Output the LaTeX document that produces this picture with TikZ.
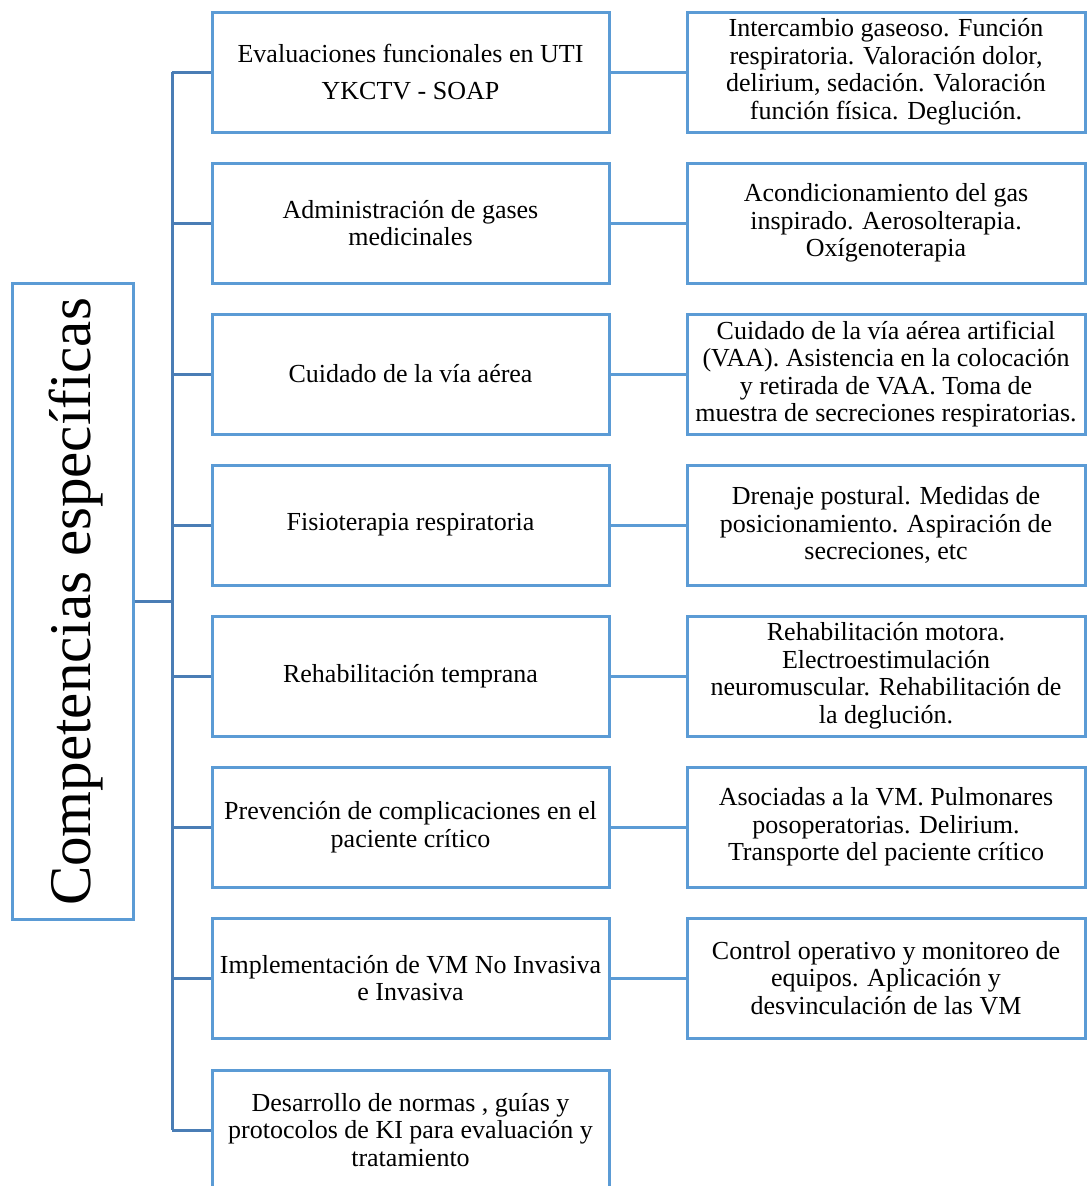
\documentclass[tikz,border=0pt]{standalone}
\usepackage{fontspec}
\setmainfont{Liberation Serif}
\definecolor{boxblue}{HTML}{5B9BD5}
\definecolor{lineblue}{HTML}{4A7DB5}
\begin{document}
\begin{tikzpicture}[x=1pt,y=-1pt,
  mbox/.style={draw=boxblue, line width=3pt, fill=white, minimum width=397pt, minimum height=120pt,
    align=center, inner sep=1pt, font=\fontsize{26}{27.5}\selectfont},
  rbox/.style={draw=boxblue, line width=3pt, fill=white, minimum width=398pt, minimum height=120pt,
    align=center, inner sep=1pt, font=\fontsize{26}{27.5}\selectfont},
  lbox/.style={draw=boxblue, line width=3pt, fill=white, minimum width=121pt, minimum height=636pt},
  spine/.style={draw=lineblue, line width=3pt},
  link/.style={draw=boxblue, line width=3pt}]
\useasboundingbox (0,0) rectangle (1090,1186);
\clip (0,0) rectangle (1090,1186);
\fill[white] (0,0) rectangle (1090,1186);

% spine coordinates
\coordinate (s1) at (172,72);
\coordinate (s2) at (172,223);
\coordinate (s3) at (172,374);
\coordinate (s4) at (172,525);
\coordinate (s5) at (172,676);
\coordinate (s6) at (172,827);
\coordinate (s7) at (172,978);
\coordinate (s8) at (172,1130);

% middle boxes
\node[mbox] (m1) at (410.5,72) {Evaluaciones funcionales en UTI\\[9pt]YKCTV - SOAP};
\node[mbox] (m2) at (410.5,223) {Administración de gases\\medicinales};
\node[mbox] (m3) at (410.5,374) {Cuidado de la vía aérea};
\node[mbox] (m4) at (410.5,525) {Fisioterapia respiratoria};
\node[mbox] (m5) at (410.5,676) {Rehabilitación temprana};
\node[mbox] (m6) at (410.5,827) {Prevención de complicaciones en el\\paciente crítico};
\node[mbox] (m7) at (410.5,978) {Implementación de VM No Invasiva\\e Invasiva};
\node[mbox] (m8) at (410.5,1130) {Desarrollo de normas , guías y\\protocolos de KI para evaluación y\\tratamiento};

% right boxes
\node[rbox] (r1) at (886,72) {Intercambio gaseoso. Función\\respiratoria. Valoración dolor,\\delirium, sedación. Valoración\\función física. Deglución.};
\node[rbox] (r2) at (886,223) {Acondicionamiento del gas\\inspirado. Aerosolterapia.\\Oxígenoterapia};
\node[rbox] (r3) at (886,374) {Cuidado de la vía aérea artificial\\(VAA). Asistencia en la colocación\\y retirada de VAA. Toma de\\muestra de secreciones respiratorias.};
\node[rbox] (r4) at (886,525) {Drenaje postural. Medidas de\\posicionamiento. Aspiración de\\secreciones, etc};
\node[rbox] (r5) at (886,676) {Rehabilitación motora.\\Electroestimulación\\neuromuscular. Rehabilitación de\\la deglución.};
\node[rbox] (r6) at (886,827) {Asociadas a la VM. Pulmonares\\posoperatorias. Delirium.\\Transporte del paciente crítico};
\node[rbox] (r7) at (886,978) {Control operativo y monitoreo de\\equipos. Aplicación y\\desvinculación de las VM};

% left box
\node[lbox] (L) at (72.5,601) {};
\node[rotate=90, inner sep=0pt, font=\fontsize{59}{60}\selectfont] (Lt) at (76,602) {Competencias específicas};

% connectors
\draw[spine] (s1) -- (s8);
\draw[spine] (L.east) -- (L.east -| s1);
\foreach \i in {1,...,8} {
  \draw[spine] (s\i) -- (m\i.west);
}
\foreach \i in {1,...,7} {
  \draw[link] (m\i.east) -- (r\i.west);
}
\end{tikzpicture}
\end{document}
